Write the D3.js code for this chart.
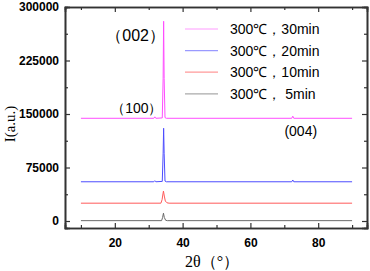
<!DOCTYPE html>
<html lang="en">
<head>
<meta charset="UTF-8">
<title>XRD</title>
<style>
  body { margin: 0; background: #fff; }
  svg text { font-family: "Liberation Sans", Arial, sans-serif; }
</style>
</head>
<body>
<script src="https://d3js.org/d3.v7.min.js"></script>
<div id="chart"></div>
<script>
const W = 370, H = 271
const MARGIN = { LEFT: 65, RIGHT: 3, TOP: 7, BOTTOM: 43 }

// series labels, top to bottom in legend
const seriesNames = ["300℃，30min", "300℃，20min", "300℃，10min", "300℃，  5min"]
const lineColors = ["#ff4dff", "#4d4dff", "#ff5a5a", "#6a6a6a"]
const legendColors = ["#ff9cff", "#9a9aff", "#ff9a9a", "#aaaaaa"]

// [2theta, intensity] points
const s30 = [[10, 144000], [31.5, 144000], [31.8, 146000], [32.1, 144000], [34.0, 144500], [34.25, 200000],
  [34.4, 280000], [34.55, 200000], [34.8, 145000], [35.2, 144000], [72.2, 144000], [72.5, 147000], [72.8, 144000], [90, 144000]]
const s20 = [[10, 55000], [31.5, 55000], [31.8, 56500], [32.1, 55000], [34.0, 55500], [34.25, 95000],
  [34.4, 130000], [34.55, 95000], [34.8, 56000], [35.2, 55000], [72.2, 55000], [72.5, 57500], [72.8, 55000], [90, 55000]]
const s10 = [[10, 25000], [33.6, 25000], [33.95, 30000], [34.2, 38000], [34.35, 42000], [34.6, 35000],
  [34.9, 28000], [35.4, 25500], [36, 25000], [90, 25000]]
const s5 = [[10, 500], [33.8, 500], [34.1, 5000], [34.35, 11000], [34.6, 5000], [35.0, 1000], [35.5, 500], [90, 500]]
const series = [s30, s20, s10, s5]

const xTicks = [20, 40, 60, 80]
const xMinor = [10, 30, 50, 70, 90]
const yTicks = [0, 75000, 150000, 225000, 300000]
const yMinor = [37500, 112500, 187500, 262500]

const peakLabels = ["（002）", "（100）", "(004)"]

const svg = d3.select("#chart").append("svg")
  .attr("width", W).attr("height", H)

const x = d3.scaleLinear().domain([5.3, 94.4]).range([MARGIN.LEFT, W - MARGIN.RIGHT])
const y = d3.scaleLinear().domain([-9800, 300000]).range([H - MARGIN.BOTTOM, MARGIN.TOP])

const line = d3.line().x(d => x(d[0])).y(d => y(d[1]))

// data lines
series.forEach((s, i) => {
  svg.append("path")
    .datum(s)
    .attr("d", line)
    .attr("fill", "none")
    .attr("stroke", lineColors[i])
    .attr("stroke-width", 1)
})

// axes, ticks inside
const axisCol = "#333"
const fmtY = d3.format("d")
const gBottom = svg.append("g").attr("transform", `translate(0,${y.range()[0]})`)
  .call(d3.axisBottom(x).tickValues(xTicks).tickSize(-5).tickPadding(10).tickFormat(d3.format("d")))
gBottom.append("g").call(d3.axisBottom(x).tickValues(xMinor).tickSize(-3).tickFormat(""))
const gTop = svg.append("g").attr("transform", `translate(0,${y.range()[1]})`)
  .call(d3.axisTop(x).tickValues(xTicks).tickSize(-5).tickFormat(""))
gTop.append("g").call(d3.axisTop(x).tickValues(xMinor).tickSize(-3).tickFormat(""))
const gLeft = svg.append("g").attr("transform", `translate(${x.range()[0]},0)`)
  .call(d3.axisLeft(y).tickValues(yTicks).tickSize(-5).tickPadding(6).tickFormat(fmtY))
gLeft.append("g").call(d3.axisLeft(y).tickValues(yMinor).tickSize(-3).tickFormat(""))
const gRight = svg.append("g").attr("transform", `translate(${x.range()[1]},0)`)
  .call(d3.axisRight(y).tickValues(yTicks).tickSize(-5).tickFormat(""))
gRight.append("g").call(d3.axisRight(y).tickValues(yMinor).tickSize(-3).tickFormat(""))

svg.selectAll(".domain").attr("stroke", axisCol).attr("stroke-width", 1.6)
svg.selectAll(".tick line").attr("stroke", axisCol).attr("stroke-width", 1.2)
svg.selectAll(".tick text").attr("fill", "#000").style("font-size", "12px").style("font-weight", "bold")

// peak labels
svg.append("text").attr("x", x(34.4) - 28).attr("y", y(280000) + 20)
  .attr("text-anchor", "middle").style("font-size", "16px").text(peakLabels[0])
svg.append("text").attr("x", x(31.8) - 18).attr("y", y(146000) - 4)
  .attr("text-anchor", "middle").style("font-size", "14px").text(peakLabels[1])
svg.append("text").attr("x", x(72.5) + 8).attr("y", y(147000) + 20)
  .attr("text-anchor", "middle").style("font-size", "14px").text(peakLabels[2])

// legend
const leg = svg.append("g").attr("transform", "translate(185,29)")
seriesNames.forEach((n, i) => {
  leg.append("line").attr("x1", 0).attr("x2", 33).attr("y1", i * 21.6).attr("y2", i * 21.6)
    .attr("stroke", legendColors[i]).attr("stroke-width", 1.2)
  leg.append("text").attr("x", 45).attr("y", i * 21.6 + 5).style("font-size", "14px").text(n)
})

// axis titles
svg.append("text").attr("transform", "translate(15,124) rotate(-90)")
  .attr("text-anchor", "middle").style("font-family", "'Liberation Serif', 'Times New Roman', serif")
  .style("font-size", "15px").text("I(a.u.)")
svg.append("text").attr("x", 212).attr("y", 267)
  .attr("text-anchor", "middle").style("font-family", "'Liberation Serif', 'Times New Roman', serif")
  .style("font-size", "16px").text("2θ（°）")
</script>
</body>
</html>
